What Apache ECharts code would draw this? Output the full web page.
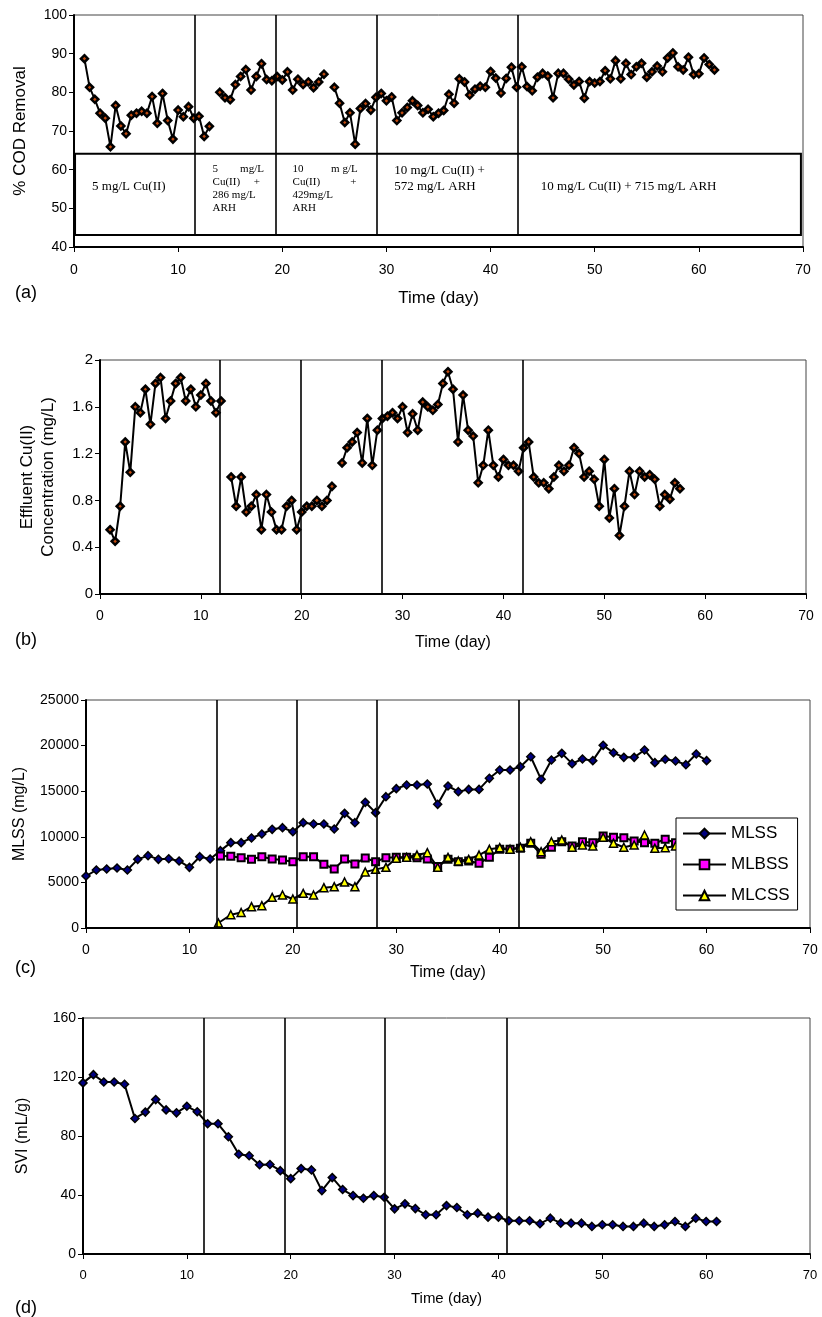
<!DOCTYPE html>
<html><head><meta charset="utf-8">
<script src="https://cdn.jsdelivr.net/npm/echarts/dist/echarts.min.js"></script>
<style>html,body{margin:0;padding:0;background:#fff}#c{width:822px;height:1317px}</style>
</head><body><div id="c"></div>
<script>
// ---------- DATA ----------
const codDays = [1,1.5,2,2.5,3,3.5,4,4.5,5,5.5,6,6.5,7,7.5,8,8.5,9,9.5,10,10.5,11,11.5,12,12.5,13,13.5,14,14.5,15,15.5,16,16.5,17,17.5,18,18.5,19,19.5,20,20.5,21,21.5,22,22.5,23,23.5,24,24.5,25,25.5,26,26.5,27,27.5,28,28.5,29,29.5,30,30.5,31,31.5,32,32.5,33,33.5,34,34.5,35,35.5,36,36.5,37,37.5,38,38.5,39,39.5,40,40.5,41,41.5,42,42.5,43,43.5,44,44.5,45,45.5,46,46.5,47,47.5,48,48.5,49,49.5,50,50.5,51,51.5,52,52.5,53,53.5,54,54.5,55,55.5,56,56.5,57,57.5,58,58.5,59,59.5,60,60.5,61,61.5];
const codValues = [88.7,81.3,78.2,74.6,73.3,65.9,76.6,71.3,69.3,74.1,74.6,75.1,74.6,78.9,72.0,79.7,72.7,67.9,75.4,73.7,76.3,73.3,73.8,68.6,71.2,null,80.0,78.6,78.1,82.0,84.1,85.9,80.6,84.1,87.4,83.3,83.0,84.1,83.2,85.3,80.6,83.4,82.0,82.7,81.2,82.7,84.7,null,81.3,77.2,72.2,74.7,66.6,75.8,77.1,75.4,78.7,79.7,77.8,78.8,72.7,74.7,76.1,77.8,76.6,74.7,75.6,73.7,74.6,75.3,79.5,77.2,83.5,82.7,79.3,80.8,81.6,81.3,85.4,83.7,79.8,83.6,86.5,81.3,86.6,81.5,80.4,83.9,84.9,84.2,78.6,84.9,84.9,83.4,81.9,82.8,78.5,82.8,82.4,82.8,85.6,83.5,88.2,83.5,87.5,84.6,86.6,87.5,83.9,85.3,86.8,85.3,88.9,90.2,86.6,85.8,89.1,84.6,84.8,88.9,87.2,85.8];
const codPhaseDays = [11.64,19.4,29.05,42.6];

const cuDays = [1,1.5,2,2.5,3,3.5,4,4.5,5,5.5,6,6.5,7,7.5,8,8.5,9,9.5,10,10.5,11,11.5,12,12.5,13,13.5,14,14.5,15,15.5,16,16.5,17,17.5,18,18.5,19,19.5,20,20.5,21,21.5,22,22.5,23,23.5,24,24.5,25,25.5,26,26.5,27,27.5,28,28.5,29,29.5,30,30.5,31,31.5,32,32.5,33,33.5,34,34.5,35,35.5,36,36.5,37,37.5,38,38.5,39,39.5,40,40.5,41,41.5,42,42.5,43,43.5,44,44.5,45,45.5,46,46.5,47,47.5,48,48.5,49,49.5,50,50.5,51,51.5,52,52.5,53,53.5,54,54.5,55,55.5,56,56.5,57,57.5];
const cuValues = [0.55,0.45,0.75,1.30,1.04,1.60,1.55,1.75,1.45,1.80,1.85,1.50,1.65,1.80,1.85,1.65,1.75,1.60,1.70,1.80,1.65,1.55,1.65,null,1.00,0.75,1.00,0.70,0.75,0.85,0.55,0.85,0.70,0.55,0.55,0.75,0.80,0.55,0.70,0.75,0.75,0.80,0.75,0.80,0.92,null,1.12,1.25,1.30,1.38,1.12,1.50,1.10,1.40,1.50,1.52,1.55,1.50,1.60,1.38,1.54,1.40,1.64,1.60,1.57,1.62,1.80,1.90,1.75,1.30,1.70,1.40,1.35,0.95,1.10,1.40,1.10,1.00,1.15,1.10,1.10,1.05,1.25,1.30,1.00,0.95,0.95,0.90,1.00,1.10,1.05,1.10,1.25,1.20,1.00,1.05,0.98,0.75,1.15,0.65,0.90,0.50,0.75,1.05,0.85,1.05,1.00,1.02,0.98,0.75,0.85,0.81,0.95,0.90];
const cuPhaseDays = [11.9,19.9,27.9,41.9];

const mlssDays = [0,1,2,3,4,5,6,7,8,9,10,11,12,13,14,15,16,17,18,19,20,21,22,23,24,25,26,27,28,29,30,31,32,33,34,35,36,37,38,39,40,41,42,43,44,45,46,47,48,49,50,51,52,53,54,55,56,57,58,59,60];
const mlssValues = [5700,6360,6470,6580,6360,7530,7930,7530,7600,7350,6650,7820,7570,8480,9360,9360,9870,10310,10820,11000,10560,11550,11400,11400,10850,12570,11550,13780,12650,14400,15280,15680,15680,15790,13560,15570,14950,15200,15200,16410,17320,17320,17690,18780,16300,18420,19150,18020,18530,18350,20030,19220,18710,18710,19520,18130,18500,18310,17910,19080,18350];
const mlbssDays = [13,14,15,16,17,18,19,20,21,22,23,24,25,26,27,28,29,30,31,32,33,34,35,36,37,38,39,40,41,42,43,44,45,46,47,48,49,50,51,52,53,54,55,56,57];
const mlbssValues = [7890,7860,7710,7530,7820,7570,7460,7270,7820,7820,6980,6470,7570,7020,7680,7270,7710,7750,7750,7710,7570,6730,7530,7270,7350,7090,7750,8630,8630,8740,9290,8080,8850,9460,8990,9460,9350,10090,9940,9900,9540,9350,9290,9730,9350];
const mlcssDays = [12.8,14,15,16,17,18,19,20,21,22,23,24,25,26,27,28,29,30,31,32,33,34,35,36,37,38,39,40,41,42,43,44,45,46,47,48,49,50,51,52,53,54,55,56,57];
const mlcssValues = [550,1450,1700,2340,2450,3360,3620,3180,3800,3620,4420,4530,5040,4530,6140,6430,6650,7640,7750,8000,8260,6650,7750,7350,7530,8000,8630,8810,8630,8850,9460,8370,9460,9650,8850,9100,8990,9940,9290,8850,9100,10200,8740,8810,8990];
const ssPhaseDays = [12.6,20.4,28.1,41.8];

const sviDays = [0,1,2,3,4,5,6,7,8,9,10,11,12,13,14,15,16,17,18,19,20,21,22,23,24,25,26,27,28,29,30,31,32,33,34,35,36,37,38,39,40,41,42,43,44,45,46,47,48,49,50,51,52,53,54,55,56,57,58,59,60,61];
const sviValues = [116.0,121.6,116.6,116.6,115.1,91.9,96.2,104.7,97.7,95.7,100.2,96.4,88.3,88.3,79.5,67.6,66.6,60.5,60.7,56.5,51.1,57.9,57.0,43.0,51.8,43.7,39.6,37.8,39.6,38.5,30.6,34.0,30.8,26.6,26.6,32.8,31.5,26.6,27.7,25.0,25.0,22.5,22.5,22.5,20.5,24.3,20.9,20.9,20.9,18.7,19.8,19.8,18.7,18.7,20.9,18.7,19.8,22.0,18.7,24.3,22.0,22.0];
const sviPhaseDays = [11.65,19.4,29.1,40.8];

const phaseLabels = ['5 mg/L Cu(II)', '5        mg/L\nCu(II)     +\n286 mg/L\nARH', '10          m g/L\nCu(II)           +\n429mg/L\nARH', '10 mg/L Cu(II) +\n572 mg/L ARH', '10 mg/L Cu(II) + 715 mg/L ARH'];
const seriesNames = ['MLSS','MLBSS','MLCSS'];

// ---------- CHART ----------
const SANS = '"Liberation Sans", Arial, sans-serif';
const SERIF = '"Liberation Serif", "Times New Roman", serif';
const pairs = (xs, ys) => xs.map((x, i) => [x, ys[i]]);

const chart = echarts.init(document.getElementById('c'), null, {renderer: 'canvas'});

const grids = [
  {left: 74, top: 15, width: 729, height: 232},
  {left: 100, top: 360, width: 706, height: 234},
  {left: 86, top: 700, width: 724, height: 228},
  {left: 83, top: 1018, width: 727, height: 236}
].map(g => Object.assign(g, {show: true, borderColor: '#444', borderWidth: 1, containLabel: false}));

function xAx(i, fs, margin, nameFs, nameGap) {
  return {
    type: 'value', gridIndex: i, min: 0, max: 70, interval: 10,
    axisLine: {show: true, onZero: false, lineStyle: {color: '#000', width: 2}},
    axisTick: {show: true, inside: false, length: 5, lineStyle: {color: '#000', width: 1}},
    axisLabel: {fontSize: fs, color: '#000', fontFamily: SANS, margin: margin},
    splitLine: {show: false},
    name: 'Time (day)', nameLocation: 'middle', nameGap: nameGap,
    nameTextStyle: {fontSize: nameFs, color: '#000', fontFamily: SANS}
  };
}
function yAx(i, min, max, interval, fs, name, nameFs, nameGap, lh) {
  return {
    type: 'value', gridIndex: i, min: min, max: max, interval: interval,
    axisLine: {show: true, onZero: false, lineStyle: {color: '#000', width: 2}},
    axisTick: {show: true, inside: false, length: 5, lineStyle: {color: '#000', width: 1}},
    axisLabel: {fontSize: fs, color: '#000', fontFamily: SANS, margin: 7, formatter: v => String(v)},
    splitLine: {show: false},
    name: name, nameLocation: 'middle', nameRotate: 90, nameGap: nameGap,
    nameTextStyle: {fontSize: nameFs, color: '#000', fontFamily: SANS, lineHeight: lh || nameFs * 1.2}
  };
}
function vlines(days, lo, hi) {
  return {
    silent: true, symbol: ['none', 'none'], animation: false,
    label: {show: false},
    lineStyle: {color: '#000', width: 1.6, type: 'solid'},
    emphasis: {disabled: true},
    data: days.map(d => [{coord: [d, lo]}, {coord: [d, hi]}])
  };
}
function lineSeries(name, xi, data, symbol, fill, size, bw, extra) {
  return Object.assign({
    type: 'line', name: name, xAxisIndex: xi, yAxisIndex: xi, data: data,
    symbol: symbol, symbolSize: size, showAllSymbol: true, connectNulls: false,
    lineStyle: {color: '#000', width: 2},
    itemStyle: {color: fill, borderColor: '#000', borderWidth: bw},
    emphasis: {disabled: true}, animation: false, z: 3
  }, extra || {});
}

const option = {
  animation: false,
  grid: grids,
  xAxis: [xAx(0, 14, 16, 17, 43), xAx(1, 14, 15, 16, 41), xAx(2, 14, 15, 16, 37), xAx(3, 13, 15, 15, 37)],
  yAxis: [
    yAx(0, 40, 100, 10, 14, '% COD Removal', 17, 43),
    yAx(1, 0, 2, 0.4, 15, 'Effluent Cu(II)\nConcentration (mg/L)', 17, 41, 21),
    yAx(2, 0, 25000, 5000, 14, 'MLSS (mg/L)', 16, 48),
    yAx(3, 0, 160, 40, 14, 'SVI (mL/g)', 16, 51)
  ],
  legend: {
    data: seriesNames, orient: 'vertical', left: 676, top: 818,
    itemWidth: 43, itemHeight: 12, itemGap: 14, padding: [7, 8, 6, 6],
    backgroundColor: '#fff', borderColor: '#000', borderWidth: 1,
    textStyle: {fontSize: 17, color: '#000', fontFamily: SANS},
    selectedMode: false
  },
  series: [
    lineSeries('cod', 0, pairs(codDays, codValues), 'diamond', '#c04a10', 7, 2.5, {
      markLine: vlines(codPhaseDays, 43.1, 100),
      markArea: {
        silent: true, animation: false,
        itemStyle: {color: 'rgba(0,0,0,0)', borderColor: '#000', borderWidth: 2},
        label: {show: false},
        data: [[{coord: [0.1, 64.1]}, {coord: [69.8, 43.1]}]]
      }
    }),
    lineSeries('cu', 1, pairs(cuDays, cuValues), 'diamond', '#c04a10', 7, 2.5, {
      markLine: vlines(cuPhaseDays, 0, 2)
    }),
    lineSeries('MLSS', 2, pairs(mlssDays, mlssValues), 'diamond', '#000080', 8, 1.5, {
      markLine: vlines(ssPhaseDays, 0, 25000)
    }),
    lineSeries('MLBSS', 2, pairs(mlbssDays, mlbssValues), 'rect', '#ff00ff', 7, 2),
    lineSeries('MLCSS', 2, pairs(mlcssDays, mlcssValues), 'triangle', '#ffff00', 8, 1.5),
    lineSeries('svi', 3, pairs(sviDays, sviValues), 'diamond', '#000080', 8, 1.5, {
      markLine: vlines(sviPhaseDays, 0, 160)
    })
  ]
};
chart.setOption(option);

// phase annotations in panel (a), anchored in data coordinates
const annot = [
  {day: 1.73, val: 55.5, size: 13, lh: 16, align: 'left'},
  {day: 13.31, val: 55.0, size: 11, lh: 13, align: 'left'},
  {day: 20.99, val: 55.0, size: 11, lh: 13, align: 'left'},
  {day: 30.74, val: 57.7, size: 13, lh: 16, align: 'left'},
  {day: 53.26, val: 55.6, size: 13, lh: 16, align: 'center'}
];
const graphics = annot.map((a, i) => {
  const p = chart.convertToPixel({gridIndex: 0}, [a.day, a.val]);
  return {type: 'text', x: p[0], y: p[1], silent: true, z: 10,
    style: {text: phaseLabels[i], font: a.size + 'px ' + SERIF, fill: '#000',
      align: a.align, verticalAlign: 'middle', lineHeight: a.lh}};
});
[['(a)', 293], ['(b)', 640], ['(c)', 968], ['(d)', 1308]].forEach(t => {
  graphics.push({type: 'text', x: 15, y: t[1], silent: true,
    style: {text: t[0], font: '18px ' + SANS, fill: '#000', align: 'left', verticalAlign: 'middle'}});
});
chart.setOption({graphic: graphics});
</script>
</body></html>
